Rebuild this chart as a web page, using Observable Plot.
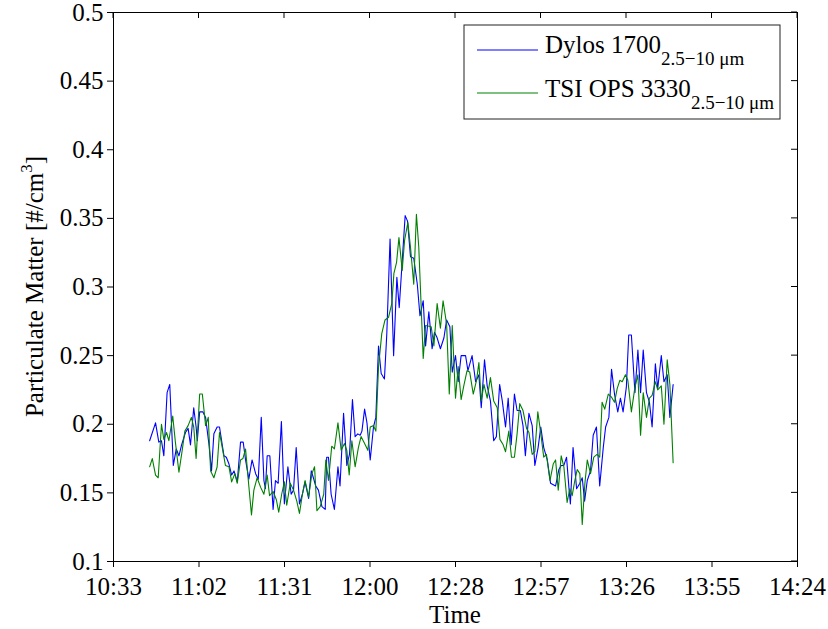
<!DOCTYPE html>
<html><head><meta charset="utf-8">
<script src="https://cdn.jsdelivr.net/npm/d3@7"></script>
<script src="https://cdn.jsdelivr.net/npm/@observablehq/plot@0.6"></script>
<style>body{margin:0;background:#fff} #chart{position:relative;width:828px;height:629px}</style>
</head><body><div id="chart"></div>
<script>
// Tick labels (time axis spans 10:33 -> 14:24, ticks every 28.875 min)
const xTickLabels = ["10:33","11:02","11:31","12:00","12:28","12:57","13:26","13:55","14:24"];
const xSpanMinutes = 231;
const yTicks = [0.1,0.15,0.2,0.25,0.3,0.35,0.4,0.45,0.5];
const seriesNames = ["Dylos 1700","TSI OPS 3330"];
const sizeRange = "2.5\u221210 \u03bcm";
const xLabel = "Time";
const yLabel = "Particulate Matter [#/cm";

// minutes after 10:33
const dylosTime = [12.2,14.2,15.3,16.2,17.0,18.1,19.0,20.2,21.2,22.1,23.0,24.3,25.2,26.0,27.1,27.9,28.3,29.1,30.2,31.1,32.2,33.1,33.9,35.0,35.8,37.3,38.1,39.0,39.9,40.7,41.8,42.9,43.8,44.6,45.7,46.8,48.0,48.9,49.9,50.8,51.3,51.9,52.8,53.9,54.7,55.6,56.7,57.7,58.9,60.0,60.8,61.7,62.8,63.8,64.7,65.9,66.8,67.5,68.3,69.2,70.4,71.5,72.0,72.6,73.5,74.6,75.8,76.5,77.7,78.8,79.7,80.7,81.6,82.5,83.3,83.9,84.8,85.6,86.7,87.8,88.6,89.5,90.4,91.5,92.3,93.4,94.6,95.7,96.5,97.6,98.5,99.3,100.3,101.4,102.6,103.5,104.6,105.4,106.5,107.6,108.4,109.3,110.4,111.6,112.5,113.6,114.4,115.5,116.4,117.4,118.9,119.7,121.1,122.3,123.4,124.2,125.3,126.2,127.3,128.4,129.3,130.4,131.3,132.4,133.3,134.3,135.4,136.3,137.4,138.3,139.1,140.3,141.4,142.3,143.4,144.3,145.3,146.5,147.6,149.3,150.4,151.2,152.1,153.0,153.8,154.3,155.2,156.4,157.5,158.3,159.1,160.0,161.1,162.0,163.1,164.2,165.4,166.2,167.3,168.2,169.2,170.3,171.2,172.1,173.2,174.0,174.9,176.1,177.1,178.0,178.9,180.0,181.0,181.9,183.0,183.8,185.0,185.9,187.0,187.9,189.0];
const dylosValue = [.188,.201,.187,.188,.177,.223,.229,.170,.182,.177,.185,.194,.197,.185,.212,.198,.188,.209,.209,.205,.186,.166,.193,.198,.198,.177,.176,.171,.163,.166,.158,.187,.187,.174,.160,.174,.164,.160,.205,.159,.153,.177,.177,.138,.159,.157,.202,.142,.169,.149,.152,.183,.142,.149,.158,.146,.166,.161,.155,.152,.140,.138,.176,.176,.149,.138,.169,.155,.208,.170,.178,.218,.191,.193,.192,.195,.211,.201,.174,.198,.205,.257,.237,.233,.266,.335,.250,.307,.285,.322,.352,.348,.322,.321,.302,.279,.290,.257,.282,.255,.267,.263,.255,.263,.276,.271,.238,.250,.231,.250,.250,.239,.250,.231,.236,.212,.247,.228,.217,.188,.191,.229,.217,.198,.219,.185,.222,.210,.210,.199,.177,.208,.199,.170,.183,.198,.183,.174,.157,.155,.167,.170,.170,.176,.154,.142,.183,.153,.157,.161,.144,.159,.166,.192,.198,.155,.183,.198,.205,.240,.222,.209,.219,.209,.227,.265,.265,.223,.254,.223,.254,.223,.216,.198,.244,.226,.250,.231,.236,.205,.229];

const tsiTime = [12.2,13.1,14.2,15.1,16.2,17.0,17.9,18.7,20.0,20.9,22.1,23.2,24.1,25.2,26.3,27.1,27.9,29.1,30.0,31.1,32.0,32.8,33.9,35.0,35.8,36.9,37.8,39.0,39.9,41.0,41.8,42.9,43.7,44.6,45.7,46.6,47.4,48.5,49.7,50.8,51.9,52.7,53.9,55.0,55.8,56.8,57.7,58.5,59.7,60.8,61.9,62.8,63.8,64.7,65.9,67.0,67.9,68.7,69.8,71.0,71.7,72.6,73.7,74.6,75.8,76.9,78.0,78.8,79.6,80.5,81.6,82.7,83.6,84.8,85.9,86.7,87.8,88.6,89.5,90.6,91.7,92.9,94.0,94.7,95.6,96.4,97.5,98.3,99.4,100.3,101.4,102.3,103.1,103.9,104.6,105.4,107.3,108.2,109.3,110.4,111.3,112.5,113.4,114.4,115.5,116.4,117.4,118.3,119.4,120.3,121.5,122.6,123.4,124.2,125.1,126.2,127.3,128.4,129.6,130.5,131.6,132.4,133.5,134.4,135.4,136.3,137.2,138.3,139.5,140.3,141.4,142.3,143.3,144.2,145.3,146.2,147.4,148.5,149.3,150.2,151.2,152.1,153.2,154.1,154.9,155.8,156.6,157.5,158.3,159.2,160.0,161.1,162.2,163.3,164.2,165.0,165.9,167.1,168.1,169.2,170.1,171.0,171.8,172.9,173.7,174.9,176.1,177.1,178.0,178.9,180.0,181.0,181.9,183.0,183.8,185.0,185.9,187.0,187.9,189.0];
const tsiValue = [.169,.175,.163,.161,.200,.189,.194,.188,.206,.187,.165,.181,.195,.199,.205,.198,.175,.222,.222,.199,.205,.166,.161,.169,.194,.181,.170,.169,.158,.164,.157,.174,.175,.182,.155,.134,.152,.161,.154,.149,.163,.148,.151,.145,.136,.149,.158,.141,.157,.152,.144,.135,.149,.159,.147,.164,.169,.137,.140,.149,.174,.159,.184,.182,.201,.181,.186,.181,.163,.188,.169,.183,.191,.186,.181,.198,.199,.195,.242,.266,.276,.278,.288,.310,.318,.336,.312,.334,.347,.329,.302,.353,.329,.286,.248,.272,.271,.257,.288,.270,.290,.273,.222,.272,.219,.242,.218,.228,.239,.238,.222,.232,.245,.217,.229,.219,.234,.217,.212,.189,.185,.180,.195,.176,.176,.193,.215,.210,.197,.194,.178,.180,.209,.195,.176,.178,.159,.171,.174,.152,.177,.169,.143,.153,.148,.159,.167,.164,.127,.157,.174,.164,.176,.178,.176,.216,.211,.222,.220,.216,.226,.232,.231,.236,.232,.209,.227,.236,.192,.223,.205,.219,.221,.231,.225,.228,.200,.247,.229,.172];

const xTickStep = xSpanMinutes / (xTickLabels.length - 1);
const xTicks = xTickLabels.map((_, i) => i * xTickStep);
const dylos = dylosTime.map((t, i) => ({t, v: dylosValue[i]}));
const tsi = tsiTime.map((t, i) => ({t, v: tsiValue[i]}));
const blue = "#0000ff", green = "#008000";
const font = "'Liberation Serif','Times New Roman',serif";

const chart = Plot.plot({
  width: 828, height: 629,
  marginLeft: 113, marginRight: 31, marginTop: 12, marginBottom: 68,
  style: {fontFamily: font, fontSize: "25px", background: "white", color: "black", overflow: "visible"},
  x: {domain: [0, xSpanMinutes]},
  y: {domain: [0.1, 0.5]},
  marks: [
    Plot.axisX({ticks: xTicks, tickFormat: d => xTickLabels[Math.round(d / xTickStep)], tickSize: 6, tickPadding: 10, label: null, fontSize: 25}),
    Plot.axisY({ticks: yTicks, tickFormat: d => String(+d.toFixed(2)), tickSize: 6, tickPadding: 4, label: null, fontSize: 25}),
    Plot.line(dylos, {x: "t", y: "v", stroke: blue, strokeWidth: 1.1}),
    Plot.line(tsi, {x: "t", y: "v", stroke: green, strokeWidth: 1.1}),
    Plot.frame({stroke: "black", strokeWidth: 1})
  ]
});
document.getElementById("chart").appendChild(chart);

const svg = d3.select(chart);
const sx = chart.scale("x"), sy = chart.scale("y");
const [x0, x1] = sx.range, [y0, y1] = sy.range; // y0 bottom, y1 top
const g = svg.append("g").attr("stroke", "black").attr("stroke-width", 1);
// inward ticks on top and right edges
xTicks.forEach(v => { const x = sx.apply(v); g.append("line").attr("x1", x).attr("x2", x).attr("y1", y1).attr("y2", y1 + 6); });
yTicks.forEach(v => { const y = sy.apply(v); g.append("line").attr("x1", x1).attr("x2", x1 - 6).attr("y1", y).attr("y2", y); });

// axis titles
svg.append("text").attr("x", (x0 + x1) / 2).attr("y", 623).attr("text-anchor", "middle")
  .attr("font-family", font).attr("font-size", 25).text(xLabel);
const yl = svg.append("text").attr("transform", `translate(43,${(y0 + y1) / 2}) rotate(-90)`)
  .attr("text-anchor", "middle").attr("font-family", font).attr("font-size", 25);
yl.append("tspan").text(yLabel);
yl.append("tspan").attr("font-size", 17).attr("dy", -11).text("3");
yl.append("tspan").attr("dy", 11).text("]");

// legend
const lg = svg.append("g").attr("font-family", font).attr("text-anchor", "start");
lg.append("rect").attr("x", 464).attr("y", 25).attr("width", 316).attr("height", 94)
  .attr("fill", "white").attr("stroke", "#222").attr("stroke-width", 1);
[[blue, 50, 53], [green, 93, 97]].forEach(([c, ly, by], i) => {
  lg.append("line").attr("x1", 477).attr("x2", 538).attr("y1", ly).attr("y2", ly).attr("stroke", c).attr("stroke-width", 1.1);
  const t = lg.append("text").attr("x", 545).attr("y", by).attr("font-size", 25).attr("text-anchor", "start");
  t.append("tspan").text(seriesNames[i]);
  t.append("tspan").attr("font-size", 19).attr("dy", 12).text(sizeRange);
});
</script>
</body></html>
